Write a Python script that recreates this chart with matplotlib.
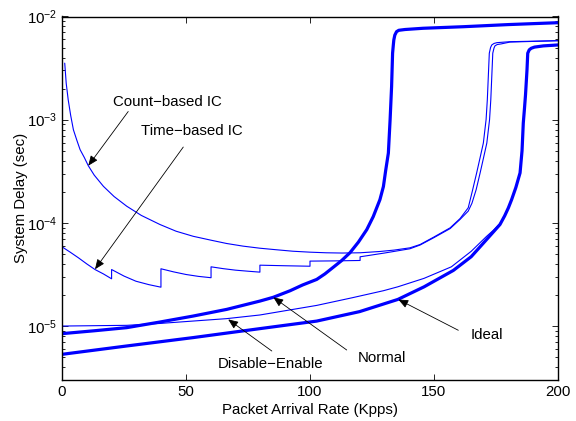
import matplotlib
matplotlib.use('Agg')
import matplotlib.pyplot as plt
from matplotlib.ticker import LogLocator, NullFormatter, FixedLocator

# ---------------- data ----------------
count_x = [1.1, 1.7, 2.5, 3.5, 4.6, 6.0, 7.3, 9.0, 10.6, 13.0, 16.7, 21.0, 26.1, 32.0,
           39.5, 46.0, 52.9, 60.0, 66.4, 73.0, 79.8, 86.0, 93.1, 100.0, 106.5, 113.0,
           120.2, 124.0, 128.2, 134.0, 140.3, 144.4, 150.0, 156.5, 160.5, 163.8,
           165.5, 167.2, 168.6, 169.9, 171.0, 171.5, 172.3, 172.8, 173.3, 174.2,
           175.4, 180.6, 200]
count_y = [3.53e-3, 2.25e-3, 1.56e-3, 1.10e-3, 7.98e-4, 6.3e-4, 5.12e-4, 4.3e-4,
           3.58e-4, 2.9e-4, 2.26e-4, 1.8e-4, 1.45e-4, 1.18e-4, 9.64e-5, 8.3e-5,
           7.41e-5, 6.8e-5, 6.31e-5, 5.95e-5, 5.68e-5, 5.5e-5, 5.31e-5, 5.2e-5,
           5.13e-5, 5.1e-5, 5.13e-5, 5.2e-5, 5.28e-5, 5.45e-5, 5.73e-5, 6.17e-5,
           7.3e-5, 8.95e-5, 1.1e-4, 1.40e-4, 2.05e-4, 3.05e-4, 4.3e-4, 5.94e-4,
           1.0e-3, 1.56e-3, 4.41e-3, 5.0e-3, 5.30e-3, 5.48e-3, 5.58e-3, 5.70e-3,
           5.83e-3]

time_x = [0, 3.3, 6.6, 10.0, 13.3, 16.7, 20.0, 20.0, 25.0, 29.8, 35.0, 39.9, 39.9,
          45.0, 50.0, 55.0, 60.1, 60.1, 65.0, 70.0, 75.0, 79.8, 79.8, 90.0, 100.0,
          100.0, 110.0, 120.2, 120.2, 130.0, 140.3, 144.4, 150.0, 156.5, 160.5,
          163.8, 165.3, 167.0, 168.6, 170.0, 171.3, 172.4, 172.9, 173.7, 174.2,
          174.6, 175.5, 177.0, 180.6, 200]
time_y = [5.86e-5, 5.2e-5, 4.59e-5, 4.0e-5, 3.53e-5, 3.2e-5, 2.87e-5, 3.53e-5,
          3.05e-5, 2.72e-5, 2.52e-5, 2.38e-5, 3.59e-5, 3.35e-5, 3.16e-5, 3.03e-5,
          2.94e-5, 3.75e-5, 3.6e-5, 3.48e-5, 3.4e-5, 3.33e-5, 3.89e-5, 3.84e-5,
          3.80e-5, 4.26e-5, 4.28e-5, 4.32e-5, 4.69e-5, 5.1e-5, 5.61e-5, 6.10e-5,
          7.2e-5, 8.80e-5, 1.08e-4, 1.30e-4, 1.55e-4, 2.1e-4, 3.05e-4, 4.3e-4,
          5.94e-4, 1.0e-3, 1.56e-3, 4.41e-3, 4.95e-3, 5.20e-3, 5.35e-3, 5.42e-3,
          5.65e-3, 5.83e-3]

normal_x = [0, 13.0, 26.1, 39.5, 52.9, 66.4, 79.8, 85.2, 92.0, 97.0, 102.7, 106.0,
            109.3, 112.7, 116.1, 119.5, 122.9, 125.5, 128.2, 129.6, 130.5, 131.6,
            132.3, 132.9, 133.3, 133.6, 133.8, 134.2, 134.9, 135.8, 138.3, 145.6,
            161.7, 180.0, 200]
normal_y = [8.44e-6, 9.0e-6, 9.65e-6, 1.094e-5, 1.25e-5, 1.45e-5, 1.746e-5, 1.90e-5,
            2.2e-5, 2.5e-5, 2.83e-5, 3.2e-5, 3.70e-5, 4.3e-5, 5.13e-5, 6.5e-5,
            8.61e-5, 1.15e-4, 1.68e-4, 2.25e-4, 3.2e-4, 4.75e-4, 1.0e-3, 2.09e-3,
            4.41e-3, 5.3e-3, 5.93e-3, 6.6e-3, 7.13e-3, 7.35e-3, 7.48e-3, 7.69e-3,
            7.96e-3, 8.35e-3, 8.71e-3]

ideal_x = [0, 26.1, 52.9, 79.8, 102.7, 120.0, 135.4, 146.0, 157.8, 165.0, 171.2,
           174.0, 176.6, 178.5, 180.0, 181.3, 183.0, 184.7, 185.5, 186.0, 186.5,
           186.9, 187.5, 187.8, 188.4, 189.2, 190.5, 194.1, 200]
ideal_y = [5.32e-6, 6.41e-6, 7.73e-6, 9.44e-6, 1.117e-5, 1.38e-5, 1.81e-5, 2.4e-5,
           3.46e-5, 4.7e-5, 6.89e-5, 8.2e-5, 9.64e-5, 1.17e-4, 1.40e-4, 1.68e-4,
           2.2e-4, 3.05e-4, 5.0e-4, 9.27e-4, 1.3e-3, 1.74e-3, 3.04e-3, 4.41e-3,
           4.75e-3, 4.92e-3, 5.05e-3, 5.19e-3, 5.30e-3]

disen_x = [0, 26.1, 39.5, 66.4, 79.8, 102.7, 117.0, 129.6, 135.4, 146.0, 157.0,
           165.0, 171.2, 174.0, 176.6, 178.5, 180.0, 181.3, 183.0, 184.7, 185.5,
           186.0, 186.5, 186.9, 187.5, 187.8, 188.4, 189.2, 190.5, 194.1, 200]
disen_y = [1.0e-5, 1.016e-5, 1.06e-5, 1.18e-5, 1.28e-5, 1.585e-5, 1.88e-5, 2.2e-5,
           2.4e-5, 2.9e-5, 3.75e-5, 5.3e-5, 7.4e-5, 8.5e-5, 9.85e-5, 1.18e-4,
           1.42e-4, 1.70e-4, 2.22e-4, 3.1e-4, 5.05e-4, 9.4e-4, 1.31e-3, 1.76e-3,
           3.06e-3, 4.42e-3, 4.76e-3, 4.93e-3, 5.06e-3, 5.2e-3, 5.31e-3]

x_ticks = [0, 50, 100, 150, 200]

# ---------------- style ----------------
plt.rcParams['font.family'] = ['Liberation Sans', 'DejaVu Sans']
plt.rcParams['mathtext.fontset'] = 'custom'
plt.rcParams['mathtext.rm'] = 'Liberation Sans'
plt.rcParams['mathtext.it'] = 'Liberation Sans:italic'
plt.rcParams['mathtext.default'] = 'regular'
FS = 10.8

fig = plt.figure(figsize=(5.76, 4.21), dpi=100)
ax = fig.add_axes([62 / 576, 41 / 421, 496 / 576, 363.5 / 421])

blue = (0, 0, 1)
thin = 0.8
thick = 2.3
kw = dict(solid_joinstyle='round', solid_capstyle='round')
ax.plot(count_x, count_y, color=blue, lw=thin, **kw)
ax.plot(time_x, time_y, color=blue, lw=thin, **kw)
ax.plot(disen_x, disen_y, color=blue, lw=thin, **kw)
ax.plot(normal_x, normal_y, color=blue, lw=thick, **kw)
ax.plot(ideal_x, ideal_y, color=blue, lw=thick, **kw)

ax.set_yscale('log')
ax.set_xlim(0, 200)
ax.set_ylim(3e-6, 1e-2)
ax.xaxis.set_major_locator(FixedLocator(x_ticks))
ax.yaxis.set_major_locator(LogLocator(base=10, numticks=10))
ax.yaxis.set_minor_locator(LogLocator(base=10, subs=range(2, 10), numticks=20))
ax.yaxis.set_minor_formatter(NullFormatter())

ax.tick_params(which='both', direction='in', top=True, right=True, labelsize=FS)
ax.tick_params(which='major', length=4.5, width=0.6)
ax.tick_params(which='minor', length=2.5, width=0.6)
for s in ax.spines.values():
    s.set_linewidth(1.0)

ax.set_xlabel('Packet Arrival Rate (Kpps)', fontsize=FS)
ax.set_ylabel('System Delay (sec)', fontsize=FS)
ax.xaxis.set_label_coords(0.5, -0.062)
ax.yaxis.set_label_coords(-0.068, 0.5)

# ---------------- annotations ----------------
ap = dict(arrowstyle='-|>,head_length=0.6,head_width=0.25', color='k', lw=0.6,
          shrinkA=0, shrinkB=0, mutation_scale=10)

ax.text(42.5, 1.5e-3, 'Count\u2212based IC', fontsize=FS, ha='center', va='center')
ax.annotate('', xy=(10.6, 3.58e-4), xytext=(26.7, 1.2e-3), arrowprops=ap)

ax.text(52.5, 7.7e-4, 'Time\u2212based IC', fontsize=FS, ha='center', va='center')
ax.annotate('', xy=(13.3, 3.55e-5), xytext=(48.9, 5.43e-4), arrowprops=ap)

ax.text(83.9, 4.27e-6, 'Disable\u2212Enable', fontsize=FS, ha='center', va='center')
ax.annotate('', xy=(67.0, 1.16e-5), xytext=(84.6, 5.73e-6), arrowprops=ap)

ax.text(128.9, 4.94e-6, 'Normal', fontsize=FS, ha='center', va='center')
ax.annotate('', xy=(85.2, 1.9e-5), xytext=(114.8, 5.86e-6), arrowprops=ap)

ax.text(171.4, 8.1e-6, 'Ideal', fontsize=FS, ha='center', va='center')
ax.annotate('', xy=(135.6, 1.81e-5), xytext=(159.8, 9.1e-6), arrowprops=ap)

fig.savefig('out.png', dpi=100)
